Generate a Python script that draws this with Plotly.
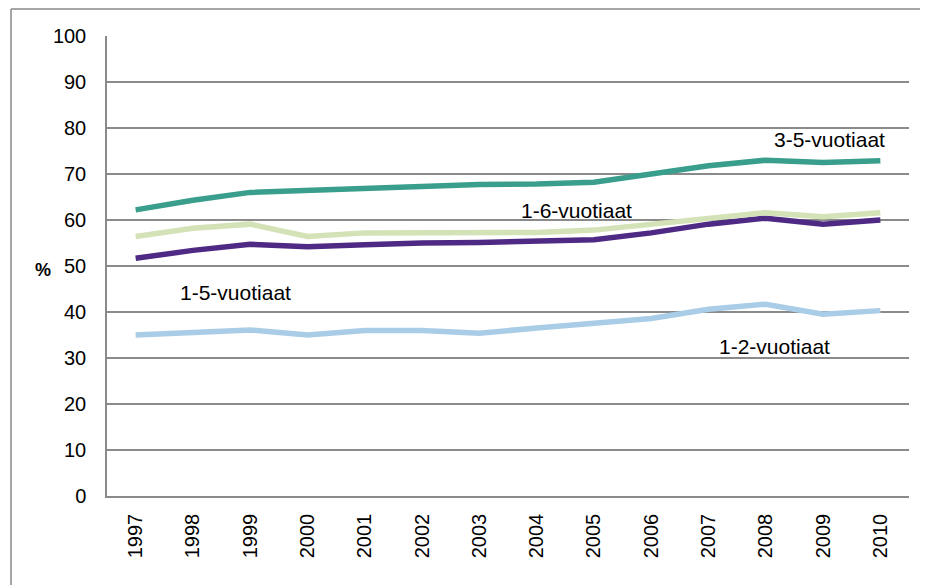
import plotly.graph_objects as go

years = ["1997", "1998", "1999", "2000", "2001", "2002", "2003",
         "2004", "2005", "2006", "2007", "2008", "2009", "2010"]
v_3_5 = [62.2, 64.3, 66.0, 66.4, 66.8, 67.3, 67.7, 67.8, 68.2, 70.0, 71.8, 73.0, 72.5, 72.9]
v_1_6 = [56.4, 58.2, 59.1, 56.4, 57.2, 57.2, 57.2, 57.3, 57.8, 59.0, 60.4, 61.6, 60.7, 61.6]
v_1_5 = [51.7, 53.4, 54.7, 54.2, 54.6, 55.0, 55.1, 55.5, 55.7, 57.2, 59.1, 60.4, 59.1, 60.0]
v_1_2 = [35.0, 35.5, 36.1, 35.0, 36.0, 36.0, 35.4, 36.5, 37.5, 38.6, 40.6, 41.7, 39.5, 40.3]

series = [
    ("1-2-vuotiaat", v_1_2, "#A9CDE6"),
    ("1-5-vuotiaat", v_1_5, "#4F2A85"),
    ("1-6-vuotiaat", v_1_6, "#D3E2B7"),
    ("3-5-vuotiaat", v_3_5, "#3A9E8C"),
]

FONT = "Liberation Sans, Arial, sans-serif"

fig = go.Figure()
for name, vals, col in series:
    fig.add_trace(go.Scatter(x=years, y=vals, mode="lines", name=name,
                             line=dict(color=col, width=5.5), showlegend=False))

# label annotations (in data coords)
labels = [
    ("3-5-vuotiaat", 12.12, 77.4),
    ("1-6-vuotiaat", 7.69, 62.0),
    ("1-5-vuotiaat", 1.74, 44.3),
    ("1-2-vuotiaat", 11.16, 32.4),
]
for txt, xi, yv in labels:
    fig.add_annotation(x=xi, y=yv, xref="x", yref="y", text=txt, showarrow=False,
                       font=dict(family=FONT, size=21, color="#000000"))

fig.add_annotation(x=-0.0923, y=0.491, xref="paper", yref="paper", text="<b>%</b>",
                   showarrow=False, font=dict(family=FONT, size=18, color="#000000"))

# outer chart border (cropped)
fig.add_shape(type="line", xref="paper", yref="paper", x0=-0.1197, x1=-0.1197,
              y0=1.0587, y1=-0.3, line=dict(color="#8A8A8A", width=1.5))
fig.add_shape(type="line", xref="paper", yref="paper", x0=-0.1197, x1=1.2,
              y0=1.0587, y1=1.0587, line=dict(color="#8A8A8A", width=1.5))

# page body has an 8px margin, so the figure is offset by 8px
fig.update_layout(
    width=920, height=577,
    margin=dict(l=99, r=19, t=28, b=89),
    paper_bgcolor="white", plot_bgcolor="white",
    font=dict(family=FONT, size=20, color="#000000"),
    xaxis=dict(type="category", range=[-0.5, 13.5], showgrid=False,
               showline=True, linecolor="#8A8A8A", linewidth=1.5,
               tickangle=-90, ticks="", ticklabelstandoff=8, automargin=False,
               tickfont=dict(family=FONT, size=20, color="#000000")),
    yaxis=dict(range=[0, 100], tick0=0, dtick=10, showgrid=True,
               gridcolor="#8A8A8A", gridwidth=1.5, zeroline=False,
               showline=True, linecolor="#8A8A8A", linewidth=1.5,
               ticks="", ticklabelstandoff=15, automargin=False,
               tickfont=dict(family=FONT, size=20, color="#000000")),
)

fig.write_html("out.html")
